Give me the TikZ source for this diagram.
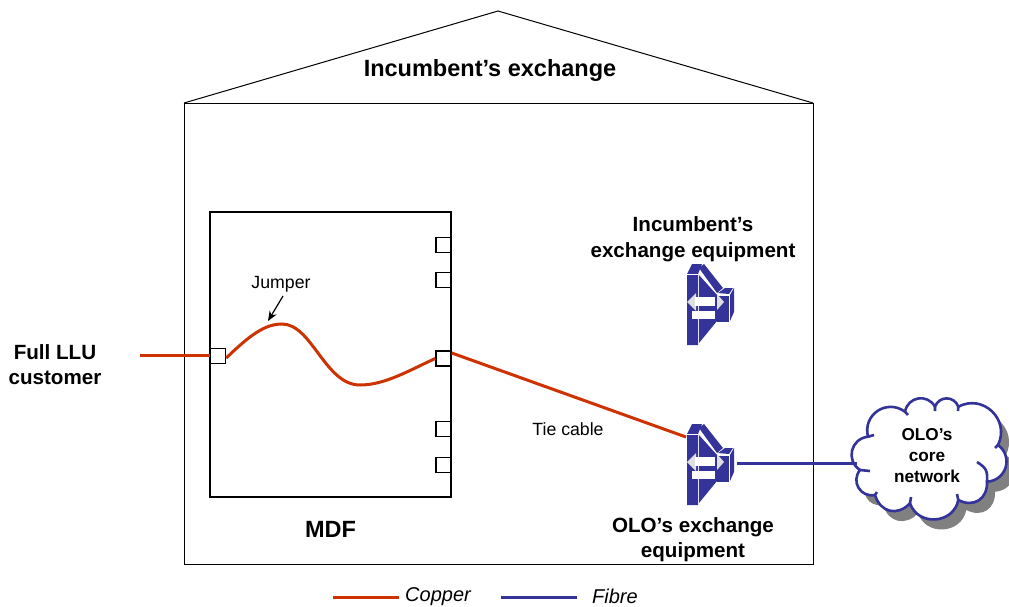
\documentclass[tikz,border=0pt]{standalone}
\usepackage{fontspec}
\setmainfont{Liberation Sans}
\usetikzlibrary{arrows.meta, positioning, calc}
\definecolor{copper}{HTML}{CC3300}
\definecolor{fibre}{HTML}{333399}

\begin{document}
\begin{tikzpicture}[x=1pt, y=-1pt,
    % Labels
    mytitle/.style={font=\fontsize{23.5}{27}\selectfont\bfseries, align=center, inner sep=0pt},
    boldlabel/.style={font=\fontsize{20.6}{25.5}\selectfont\bfseries, align=center, inner sep=0pt},
    smalllabel/.style={font=\fontsize{17.7}{20}\selectfont, inner sep=0pt},
    keylabel/.style={font=\fontsize{20}{24}\selectfont\itshape, inner sep=0pt},
    cloudlabel/.style={font=\fontsize{17.2}{21}\selectfont\bfseries, align=center, inner sep=0pt},
    % Building and frame
    wall/.style={draw, line width=1pt},
    mdfbox/.style={draw, line width=2pt, minimum width=241pt, minimum height=285pt, inner sep=0pt},
    port/.style={draw, fill=white, line width=1.5pt, minimum size=15pt, inner sep=0pt},
    % Cables
    coppercable/.style={draw=copper, line width=3pt},
    fibrecable/.style={draw=fibre, line width=3pt},
    cloudedge/.style={line width=2.6pt, every to/.style={looseness=1.3}},
    arrow/.style={-{Stealth[length=10pt, width=8pt]}, line width=1.2pt},
    % Equipment icon, origin at the middle of the front panel
    equipment/.pic={
        \begin{scope}[shift={(-32,-59)}]
            \fill[fibre] (27,24) -- (32,14) -- (42,14) -- (38,24) -- (38,95) -- (27,95) -- cycle;
            \fill[white] (27,24) rectangle (38,25);
            \fill[fibre] (39,25) -- (57,45) -- (57,71) -- (39,93) -- cycle;
            \fill[fibre] (39,18) -- (44,14) -- (63,38) -- (57,43) -- cycle;
            \fill[fibre] (58,43) -- (65,38) -- (73,38) -- (69,44) -- cycle;
            \fill[fibre] (57,46) rectangle (69,72);
            \fill[fibre] (70,45) -- (74,38) -- (74,62) -- (70,71) -- cycle;
            \fill[gray!25] (27,52) -- (36,43) -- (36,61) -- cycle;
            \fill[gray!25] (64,52) -- (57,44) -- (57,60) -- cycle;
            \fill[white] (35,47) rectangle (55,56);
            \fill[white] (32,61) rectangle (55,69);
        \end{scope}
    }
]

\useasboundingbox (0,0) rectangle (1009,606);

% House
\draw[wall] (184,103) rectangle (813,564);
\draw[wall] (184,103) -- (498,11) -- (813,103);
\node[mytitle] (title) at (490,70) {Incumbent’s exchange};

% MDF with its ports
\node[port] (portin) at (218,356) {};
\foreach \name/\ypos in {a/245, b/280, c/358.5, d/429, e/465} {
    \node[port] (port\name) at (443.5,\ypos) {};
}
\node[mdfbox] (mdf) at (330.5,354.5) {};
\node[mytitle, below=23pt of mdf] (mdflabel) {MDF};

% Equipment
\pic at (692,309) {equipment};
\pic at (692,469) {equipment};
\coordinate (oloin) at (686,437);
\coordinate (oloout) at (737,463);
\node[boldlabel] (inclabel) at (693,239) {Incumbent’s\\exchange equipment};
\node[boldlabel] (ololabel) at (693,539.5) {OLO’s exchange\\equipment};

% Cloud, shadow first
\def\cloudline{(860,470) to[bend left=70] (868,436.7) to[bend left=70] (905,411.7)
    to[bend left=70] (935,406.7) to[bend left=70] (958.3,406.7) to[bend left=72] (998,445)
    to[bend left=70] (987,481.7) to[bend left=60] (958.3,500) to[bend left=75] (910,503.3)
    to[bend left=60] (875,495) to[bend left=70] (860,470) -- cycle}
\fill[gray, shift={(8,10)}, cloudedge] \cloudline;
\draw[fibre, fill=white, cloudedge] \cloudline;
\draw[fibre, cloudedge] (977,462) to[bend left=30] (987,481.7)
    (860,470) -- (870,471) (868,436.7) -- (874,435) (905,411.7) -- (908,415)
    (935,406.7) -- (935,411) (958.3,406.7) -- (958,411) (998,445) -- (995,448)
    (958.3,500) -- (957,494) (910,503.3) -- (911,497) (875,495) -- (877,492);
\node[cloudlabel] (cloud) at (927,456) {OLO’s\\core\\network};
\coordinate (cloudin) at (857,463);

% Cables
\coordinate (custend) at (140,355.5);
\draw[coppercable] (custend) -- (custend -| portin.west);
\draw[coppercable] (portin.east |- 0,358) .. controls (250,335) and (265,324) .. (282,324)
    .. controls (312,324) and (325,385) .. (360,385)
    .. controls (385,385) and (410,370) .. (portc.west);
\draw[coppercable] (portc.east |- 0,353) -- (oloin);
\draw[fibrecable] (oloout) -- (cloudin);

% Text and pointer
\node[boldlabel] (customer) at (55,364.5) {Full LLU\\customer};
\node[smalllabel] (jumper) at (281,284) {Jumper};
\coordinate (jumpertip) at (268,321);
\draw[arrow] (283,296) -- (jumpertip);
\node[smalllabel] (tie) at (568,429) {Tie cable};

% Key
\coordinate (copperstart) at (333,597);
\node[keylabel, anchor=west] (copperkey) at (405,597) {Copper};
\draw[coppercable] (copperstart) -- (399,597);
\coordinate (fibrestart) at (501,597);
\node[keylabel, anchor=west] (fibrekey) at (592,596) {Fibre};
\draw[fibrecable] (fibrestart) -- (577,597);

\end{tikzpicture}
\end{document}
